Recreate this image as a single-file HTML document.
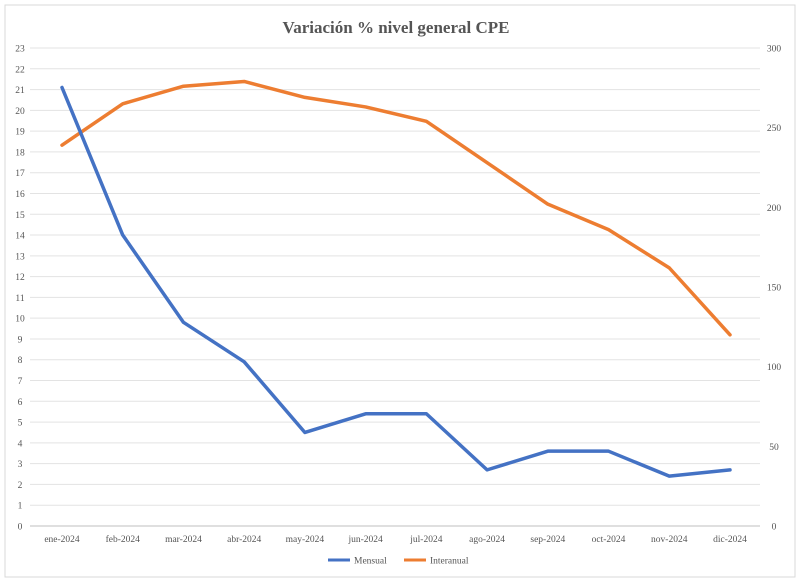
<!DOCTYPE html>
<html><head><meta charset="utf-8"><style>
html,body{margin:0;padding:0;background:#fff;}
svg{display:block;font-family:"Liberation Serif",serif;}
</style></head><body>
<svg id="chart" width="800" height="585" viewBox="0 0 800 585" xmlns="http://www.w3.org/2000/svg">
<rect x="5" y="5" width="790" height="572" fill="#fff" stroke="#d9d9d9"/>
<text x="396" y="33" text-anchor="middle" font-size="17" font-weight="bold" fill="#555">Variación % nivel general CPE</text>
<g id="grid"></g><g id="axes"></g><g id="series"></g>
<g>
<line x1="328" y1="560" x2="350" y2="560" stroke="#4472c4" stroke-width="3"/>
<text x="354" y="563.5" font-size="9.5" fill="#555">Mensual</text>
<line x1="404" y1="560" x2="426" y2="560" stroke="#ed7d31" stroke-width="3"/>
<text x="430" y="563.5" font-size="9.5" fill="#555">Interanual</text>
</g>
</svg>
<script>
const categories=["ene-2024","feb-2024","mar-2024","abr-2024","may-2024","jun-2024","jul-2024","ago-2024","sep-2024","oct-2024","nov-2024","dic-2024"];
const mensual=[21.1,14.0,9.8,7.9,4.5,5.4,5.4,2.7,3.6,3.6,2.4,2.7];
const interanual=[239,265,276,279,269,263,254,228,202,186,162,120];
const leftTicks=[0,1,2,3,4,5,6,7,8,9,10,11,12,13,14,15,16,17,18,19,20,21,22,23];
const rightTicks=[0,50,100,150,200,250,300];
const NS="http://www.w3.org/2000/svg";
const y0=526,y1=48,x0=62,x1=730;
const yL=v=>y0-(v/23)*(y0-y1);
const yR=v=>y0-(v/300)*(y0-y1);
const xS=i=>x0+i*(x1-x0)/(categories.length-1);
function mk(t,a,p){const e=document.createElementNS(NS,t);for(const k in a)e.setAttribute(k,a[k]);p.appendChild(e);return e;}
const grid=document.getElementById('grid'),axes=document.getElementById('axes'),ser=document.getElementById('series');
leftTicks.forEach(v=>{
 const l=mk('line',{x1:30,x2:760,y1:yL(v),y2:yL(v),stroke:v===0?'#bfbfbf':'#e3e3e3','stroke-width':1},grid);
 
 
 const t=mk('text',{x:20,y:yL(v)+3.5,'text-anchor':'middle','font-size':9.5,fill:'#555'},axes);
 t.textContent=v;
 
 
});
rightTicks.forEach(v=>{
 const t=mk('text',{x:774,y:yR(v)+3.5,'text-anchor':'middle','font-size':9.5,fill:'#555'},axes);
 t.textContent=v;
 
 
});
categories.forEach((c,i)=>{
 const t=mk('text',{x:xS(i),y:542,'text-anchor':'middle','font-size':9.5,fill:'#555'},axes);
 t.textContent=c;
 
 
});
const p1=mk('polyline',{points:interanual.map((v,i)=>xS(i)+','+yR(v)).join(' '),fill:'none',stroke:'#ed7d31','stroke-width':3.5,'stroke-linejoin':'round','stroke-linecap':'round'},ser);


const p2=mk('polyline',{points:mensual.map((v,i)=>xS(i)+','+yL(v)).join(' '),fill:'none',stroke:'#4472c4','stroke-width':3.5,'stroke-linejoin':'round','stroke-linecap':'round'},ser);


</script>
</body></html>
